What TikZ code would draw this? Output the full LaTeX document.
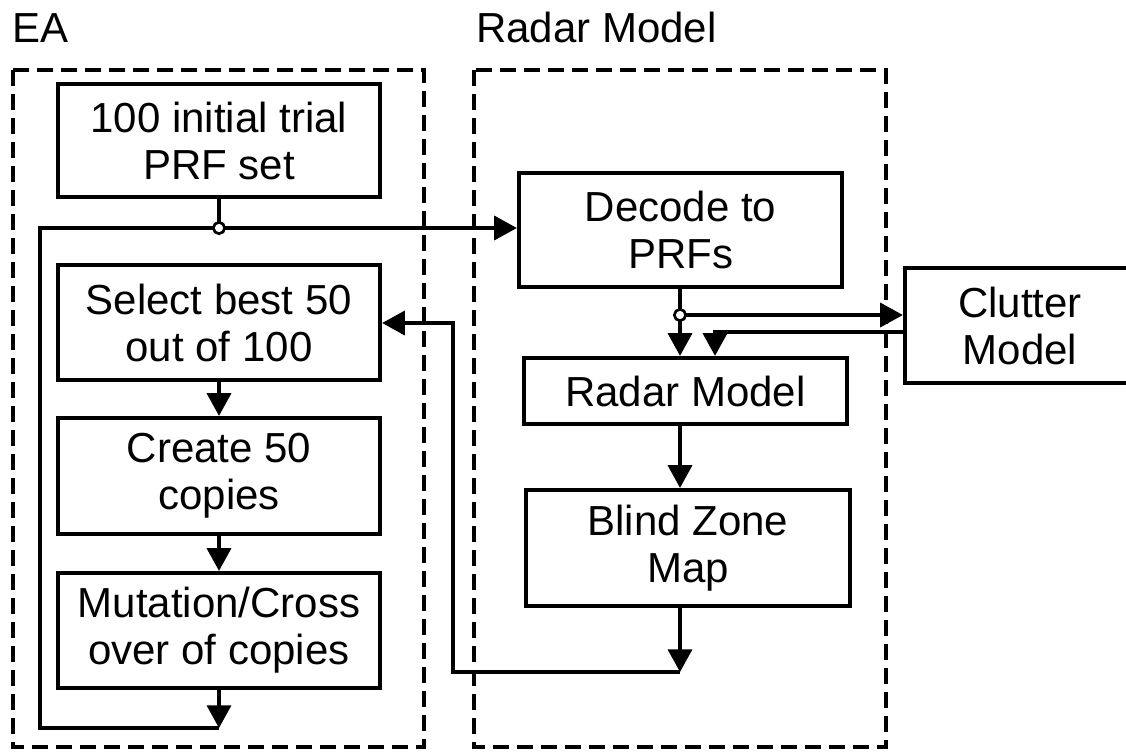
\documentclass[tikz,border=0pt]{standalone}
\usepackage{fontspec}
\setmainfont{Liberation Sans}
\usetikzlibrary{arrows.meta}
\begin{document}
\begin{tikzpicture}[x=0.75pt,y=-0.75pt,
  box/.style={draw,line width=3.2pt,minimum width=241.5pt,align=center,
    font=\fontsize{31.5}{35.25}\selectfont,inner sep=0pt},
  lbl/.style={anchor=base west,inner sep=0pt,font=\fontsize{31.5}{35.25}\selectfont},
  conn/.style={line width=2.6pt},
  arr/.style={conn,-{Triangle[length=17pt,width=18pt]}},
  group/.style={draw,line width=2.6pt,dash pattern=on 12pt off 6pt},
  jun/.style={circle,draw,fill=white,line width=2pt,inner sep=0pt,minimum size=8.5pt}]
\useasboundingbox (0,0) rectangle (1126,751);

% groups
\draw[group] (13,70) rectangle (424,747);
\draw[group] (474,70) rectangle (886,747);
\node[lbl] (tEA) at (12,42) {EA};
\node[lbl] (tRM) at (476,42) {Radar Model};

% boxes
\node[box,minimum height=84.75pt] (init) at (219,140.5) {100 initial trial\\PRF set};
\node[box,minimum height=86.25pt] (select) at (219,322.5) {Select best 50\\out of 100};
\node[box,minimum height=87pt] (create) at (219,476) {Create 50\\copies};
\node[box,minimum height=86.25pt] (mut) at (219,630.5) {Mutation/Cross\\over of copies};
\node[box,minimum height=85.5pt,minimum width=242.25pt] (decode) at (680.5,230) {Decode to\\PRFs};
\node[box,minimum height=49.5pt,minimum width=242.25pt] (radar) at (685.5,391) {Radar Model};
\node[box,minimum height=87pt,minimum width=243pt] (blind) at (688,548) {Blind Zone\\Map};
\node[box,minimum height=86.25pt,minimum width=172.5pt] (clutter) at (1020,325.5) {Clutter\\Model};

% coordinates
\coordinate (j1) at (219,228);
\coordinate (lb) at (219,728);
\coordinate (lbl) at (40,728);
\coordinate (ltl) at (40,228);
\coordinate (j2) at (680,315);
\coordinate (c2) at (715,332);
\coordinate (fb) at (680,672);
\coordinate (fbl) at (453,672);
\coordinate (fbt) at (453,323);

% connectors
\draw[conn] (init.south) -- (j1);
\draw[arr] (select.south) -- (create.north);
\draw[arr] (create.south) -- (mut.north);
\draw[arr] (mut.south) -- (lb);
\draw[arr] (lb) -- (lbl) -- (ltl) -- (decode.west |- ltl);
\draw[conn] (j2 |- decode.south) -- (j2);
\draw[arr] (j2) -- (j2 |- radar.north);
\draw[arr] (j2) -- (clutter.west |- j2);
\draw[arr] (clutter.west |- c2) -- (c2) -- (c2 |- radar.north);
\draw[arr] (j2 |- radar.south) -- (j2 |- blind.north);
\draw[arr] (j2 |- blind.south) -- (fb);
\draw[arr] (fb) -- (fbl) -- (fbt) -- (select.east |- fbt);

% junctions
\node[jun] (jc1) at (j1) {};
\node[jun] (jc2) at (j2) {};
\end{tikzpicture}
\end{document}
